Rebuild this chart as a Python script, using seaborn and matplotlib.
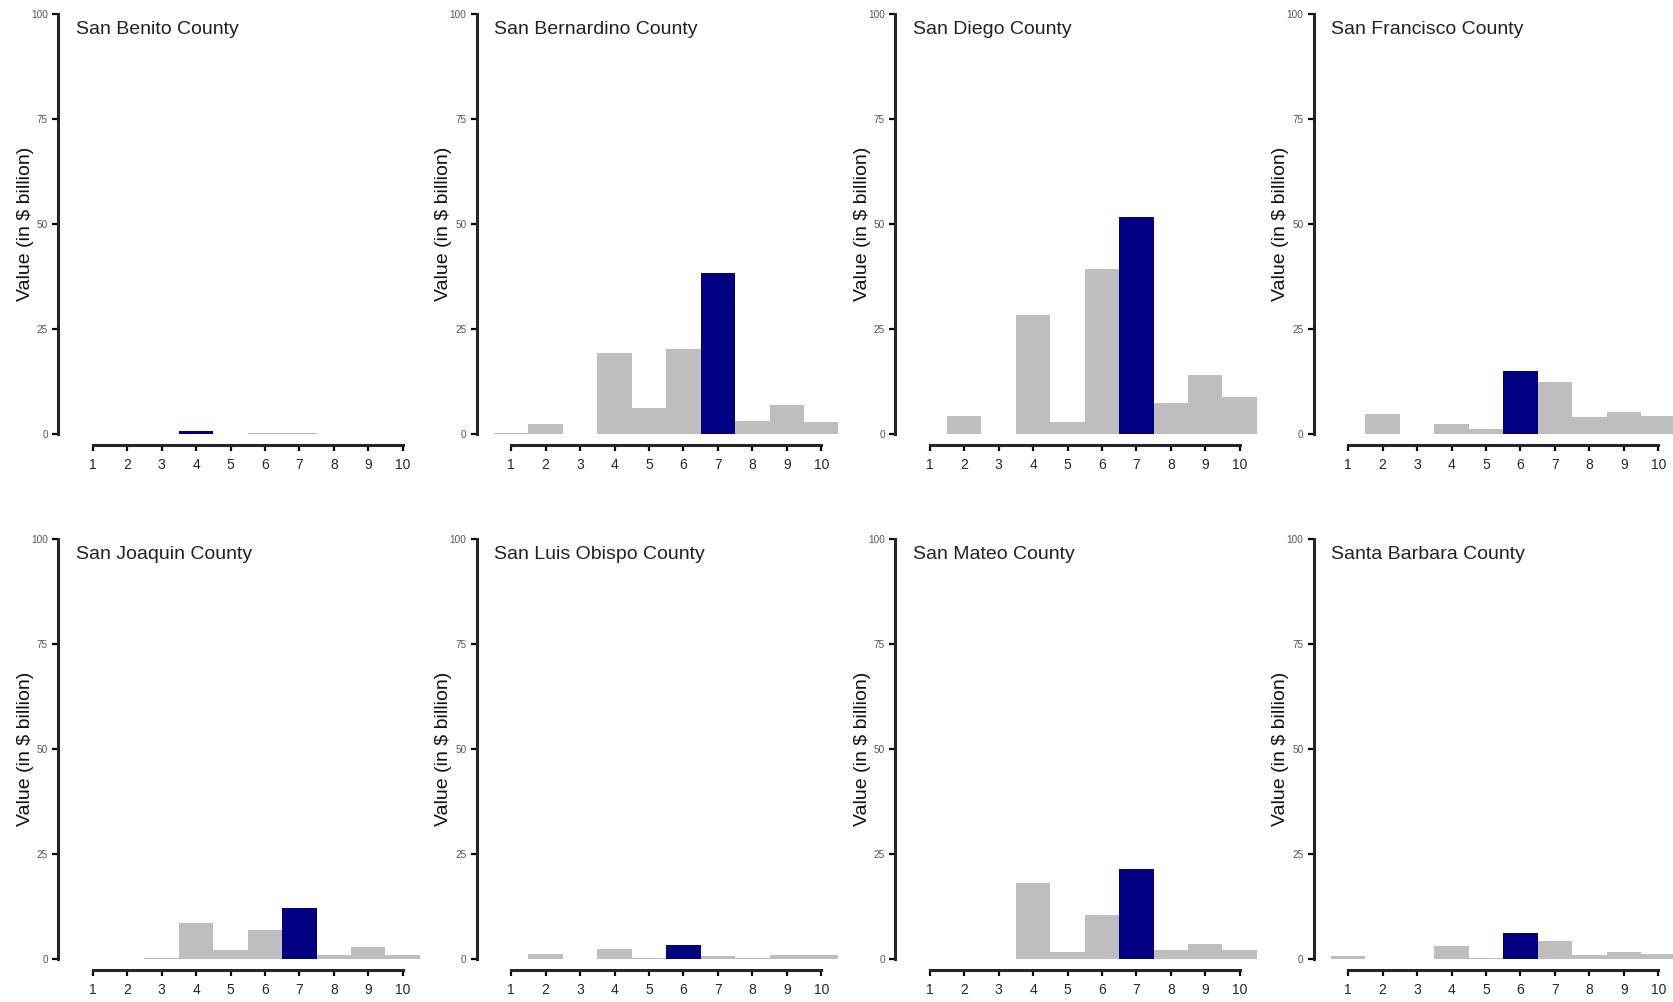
import numpy as np
import pandas as pd
import seaborn as sns
import matplotlib.pyplot as plt

counties = ['San Benito County', 'San Bernardino County', 'San Diego County', 'San Francisco County',
            'San Joaquin County', 'San Luis Obispo County', 'San Mateo County', 'Santa Barbara County']
deciles = [1, 2, 3, 4, 5, 6, 7, 8, 9, 10]

sanBenito = [0.05, 0.05, 0.05, 0.6, 0.1, 0.3, 0.2, 0.1, 0.1, 0.05]
sanBernardino = [0.3, 2.5, 0.1, 19.2, 6.3, 20.2, 38.4, 3.2, 6.8, 2.8]
sanDiego = [0.1, 4.2, 0.1, 28.3, 2.9, 39.4, 51.7, 7.3, 14.1, 8.7]
sanFrancisco = [0.1, 4.8, 0.1, 2.5, 1.1, 15.1, 12.4, 4.0, 5.2, 4.4]
sanJoaquin = [0.1, 0.05, 0.3, 8.6, 2.1, 6.9, 12.1, 0.9, 2.9, 1.0]
sanLuisObispo = [0.05, 1.3, 0.1, 2.4, 0.3, 3.4, 0.8, 0.2, 1.0, 0.9]
sanMateo = [0.02, 0.02, 0.02, 18.1, 1.6, 10.4, 21.4, 2.1, 3.6, 2.1]
santaBarbara = [0.6, 0.1, 0.1, 3.1, 0.2, 6.3, 4.4, 1.0, 1.7, 1.1]

allValues = [sanBenito, sanBernardino, sanDiego, sanFrancisco,
             sanJoaquin, sanLuisObispo, sanMateo, santaBarbara]
highlight = [4, 7, 7, 6, 7, 6, 7, 6]

yTicks = [0, 25, 50, 75, 100]

sns.set_style('white')
plt.rcParams['font.family'] = ['Liberation Sans', 'DejaVu Sans']

W, H = 1673, 1002
fig = plt.figure(figsize=(W / 100, H / 100), dpi=100)

unit = 34.44
axW = 10.5 * unit
axH = 420
rowZero = [434, 959]

for i, county in enumerate(counties):
    row, col = divmod(i, 4)
    left = 58.3 + 418.5 * col
    bottom = H - rowZero[row]
    ax = fig.add_axes([left / W, bottom / H, axW / W, axH / H])

    df = pd.DataFrame({'decile': deciles, 'value': allValues[i]})
    palette = {d: ('#000080' if d == highlight[i] else '#bebebe') for d in deciles}
    sns.barplot(data=df, x='decile', y='value', hue='decile', palette=palette,
                native_scale=True, width=1, saturation=1, linewidth=0,
                legend=False, ax=ax)

    ax.set_xlim(0, 10.5)
    ax.set_ylim(0, 100)
    ax.set_xticks(deciles)
    ax.set_xticklabels([str(d) for d in deciles], fontsize=7.2, color='#555555')
    ax.set_yticks(yTicks)
    ax.set_yticklabels([str(t) for t in yTicks], fontsize=7.2, color='#555555')

    for side in ['top', 'right']:
        ax.spines[side].set_visible(False)
    ax.spines['left'].set_linewidth(2.2)
    ax.spines['left'].set_bounds(0, 100)
    ax.spines['bottom'].set_linewidth(2.2)
    ax.spines['bottom'].set_bounds(1, 10)
    ax.spines['bottom'].set_position(('outward', 8))
    ax.tick_params(axis='both', direction='out', length=4.5, width=1.6, color='black', left=True, bottom=True)
    ax.tick_params(axis='x', pad=5)
    ax.tick_params(axis='y', pad=3)

    ax.set_xlabel('')
    ax.set_ylabel('Value (in $ billion)', fontsize=14, color='#111111')
    ax.yaxis.set_label_coords(-0.068, 0.5)

    ax.text(0.5, 96.3, county, fontsize=14, color='#222222', ha='left', va='center')

fig.savefig('out.png', dpi=100)
